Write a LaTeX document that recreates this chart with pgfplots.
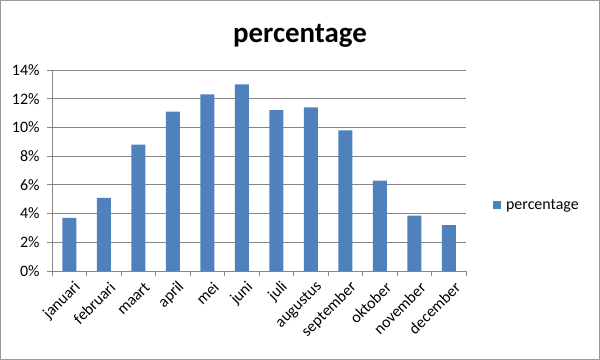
\documentclass[border=0pt]{standalone}
\usepackage{pgfplots}
\pgfplotsset{compat=1.18}
\usepackage{fontspec}
\setmainfont{Carlito}
\definecolor{barblue}{HTML}{4F81BD}
\definecolor{gridgray}{HTML}{868686}
\definecolor{framegray}{HTML}{9A9A9A}
\begin{document}
\begin{tikzpicture}
\useasboundingbox (-52bp,-89bp) rectangle (548bp,271bp);
\draw[framegray, line width=1.5bp] (-51.25bp,-88.25bp) rectangle (547.25bp,270.25bp);
\begin{axis}[
  at={(0,0)}, anchor=south west,
  scale only axis, width=414bp, height=201bp,
  xmin=-0.5, xmax=11.5, ymin=0, ymax=14,
  ybar, bar width=14bp,
  axis x line*=bottom, axis y line*=left,
  axis line style={draw=gridgray, line width=0.8bp, -},
  ymajorgrids, grid style={draw=gridgray, line width=0.8bp},
  ytick={0,2,...,14},
  yticklabel={\pgfmathprintnumber{\tick}\%},
  /pgf/number format/assume math mode=true,
  tick align=outside, major tick length=5bp,
  tick style={draw=gridgray, line width=0.8bp},
  xtick={-0.5,0.5,...,11.5}, xticklabels={},
  extra x ticks={0,1,2,3,4,5,6,7,8,9,10,11},
  extra x tick labels={januari,februari,maart,april,mei,juni,juli,augustus,september,oktober,november,december},
  extra x tick style={major tick length=0pt, grid=none,
    tick label style={rotate=45, anchor=east, xshift=0bp, yshift=-16bp}},
  tick label style={font=\fontsize{16}{19}\selectfont},
  yticklabel style={xshift=-4bp},
  legend style={at={(1.065,0.328)}, anchor=west, draw=none, fill=none,
    font=\fontsize{16}{19}\selectfont, inner xsep=0pt},
  legend image code/.code={\fill[barblue] (0bp,-4bp) rectangle (8bp,4bp); \path (11bp,0bp);},
  clip=false,
]
\addplot[fill=barblue, draw=none] coordinates {
(0,3.7) (1,5.1) (2,8.8) (3,11.1) (4,12.3) (5,13.0) (6,11.2) (7,11.4) (8,9.8) (9,6.3) (10,3.85) (11,3.2)};
\addlegendentry{percentage}
\end{axis}
\node[font=\bfseries\fontsize{29}{34}\selectfont] at (248bp,235bp) {percentage};
\end{tikzpicture}
\end{document}
